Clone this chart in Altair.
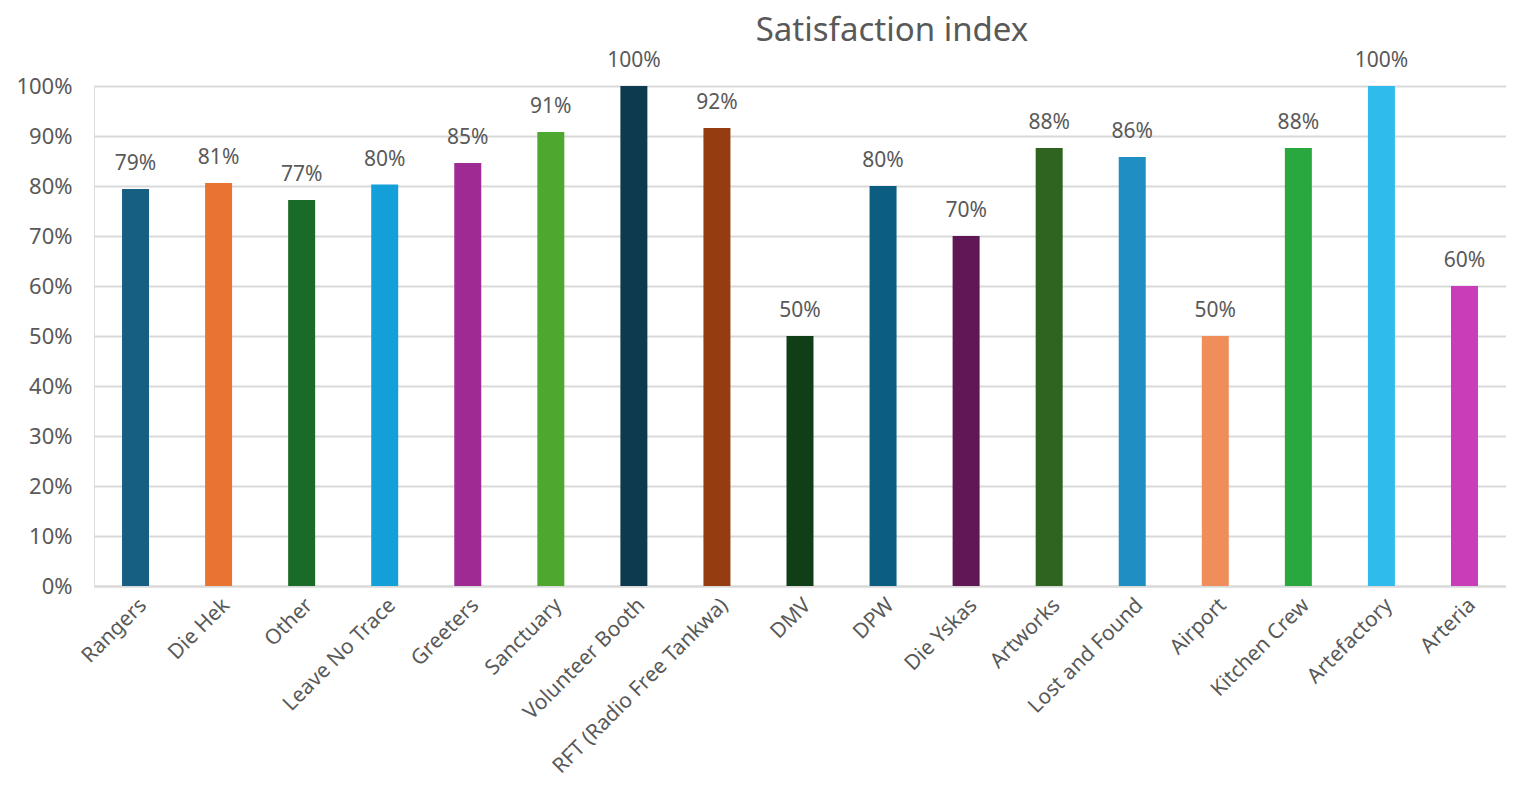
import altair as alt
import pandas as pd

categories = ["Rangers", "Die Hek", "Other", "Leave No Trace", "Greeters", "Sanctuary",
              "Volunteer Booth", "RFT (Radio Free Tankwa)", "DMV", "DPW", "Die Yskas",
              "Artworks", "Lost and Found", "Airport", "Kitchen Crew", "Artefactory",
              "Arteria"]
values = [0.794, 0.806, 0.772, 0.803, 0.846, 0.908, 1.0, 0.916, 0.50, 0.80, 0.70,
          0.876, 0.858, 0.50, 0.876, 1.0, 0.60]
colors = ["#165e82", "#e97333", "#1a6b27", "#13a0d8", "#9d2b93", "#4ea72e", "#0e3a4f",
          "#953c10", "#103f17", "#0b5e80", "#5f1755", "#2e6320", "#1f8ec3", "#ef8e5a",
          "#28a83f", "#2fbbec", "#c93db8"]

df = pd.DataFrame({"cat": categories, "val": values, "col": colors})

FONT = "Noto Sans"
GRAY = "#595959"

base = alt.Chart(df).encode(
    x=alt.X("cat:N", sort=categories, title=None,
            scale=alt.Scale(paddingInner=0.675, paddingOuter=0.3375),
            axis=alt.Axis(labelAngle=-45, labelFontSize=21, labelColor=GRAY, labelFont=FONT,
                          ticks=False, domainColor="#d9d9d9", domainWidth=2,
                          labelPadding=8, labelLimit=400)),
)

bars = base.mark_bar().encode(
    y=alt.Y("val:Q", title=None, scale=alt.Scale(domain=[0, 1]),
            axis=alt.Axis(format=".0%", values=[i / 10 for i in range(11)],
                          labelFontSize=22, labelColor=GRAY, labelFont=FONT,
                          ticks=False, domain=False, gridColor="#d9d9d9", gridWidth=2,
                          labelPadding=22)),
    color=alt.Color("col:N", scale=None),
)

labels = base.mark_text(dy=-25, fontSize=21, color=GRAY, font=FONT).encode(
    y="val:Q",
    text=alt.Text("val:Q", format=".0%"),
)

chart = (bars + labels).properties(
    width=1412,
    height=500,
    padding={"left": 7, "right": 0, "top": 7, "bottom": 0},
    title=alt.TitleParams("Satisfaction index", fontSize=33, font=FONT, color=GRAY,
                          fontWeight="normal", anchor="middle", frame="group",
                          dx=92, offset=2),
).configure_view(stroke=None).configure(background="white")

chart.save("out.html", embed_options={"renderer": "svg", "actions": False})
